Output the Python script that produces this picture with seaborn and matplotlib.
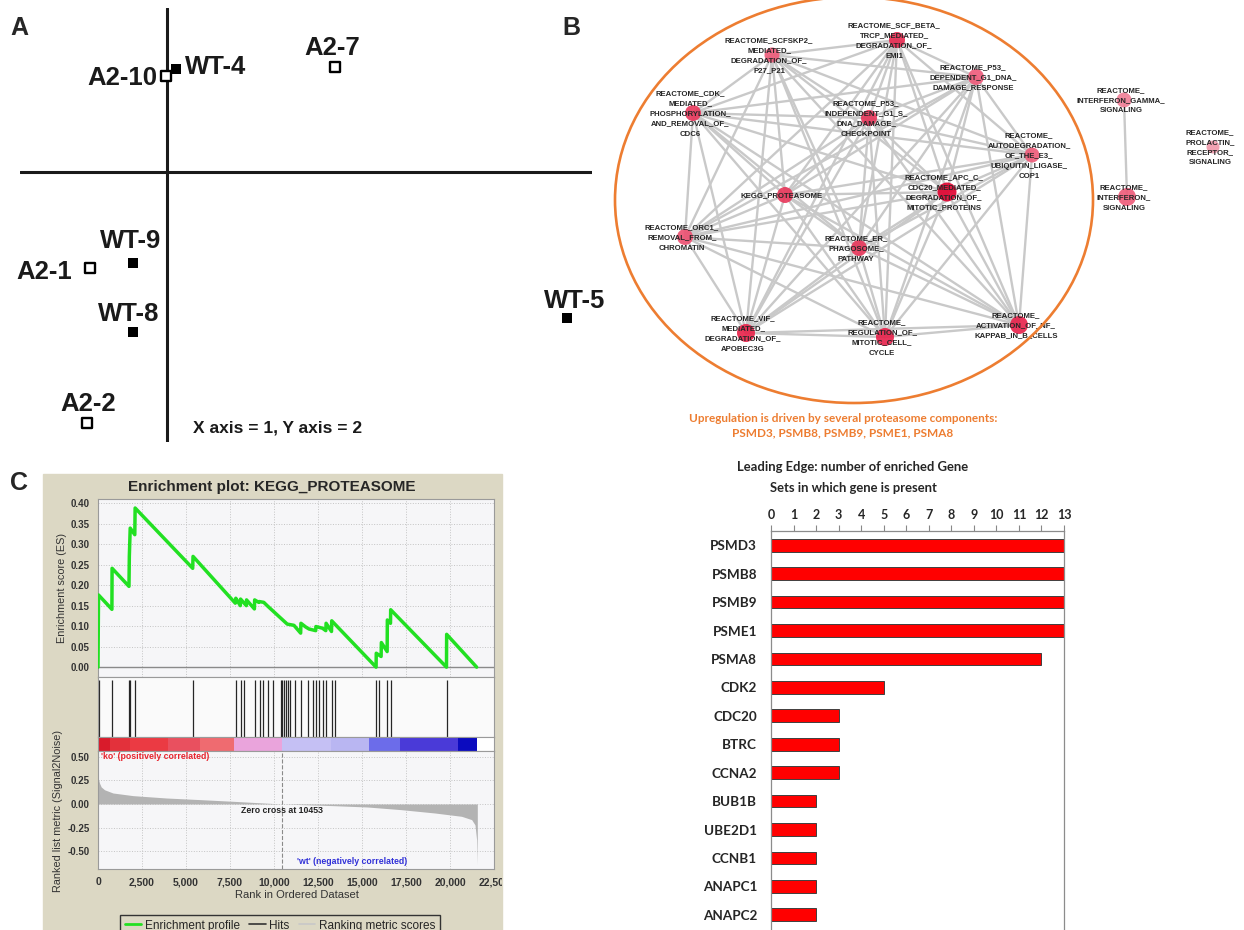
import itertools
import numpy as np
import pandas as pd
import seaborn as sns
import matplotlib.pyplot as plt
from matplotlib.patches import Ellipse, Rectangle
from matplotlib.lines import Line2D
from matplotlib.transforms import Bbox, TransformedBbox

# ---------------- data ----------------
# A: sample scores on component 1 / component 2
pca_samples = ["A2-10", "WT-4", "A2-7", "WT-9", "A2-1", "WT-8", "A2-2", "WT-5"]
pca_group = ["A2", "WT", "A2", "WT", "A2", "WT", "A2", "WT"]
pca_pc1 = [-0.03, 0.23, 4.2, -0.85, -1.93, -0.85, -2.0, 10.0]
pca_pc2 = [2.40, 2.58, 2.63, -2.28, -2.40, -4.0, -6.28, -3.65]

# B: enrichment map (node layout + style)
gs_labels = [
    "REACTOME_SCF_BETA_\nTRCP_MEDIATED_\nDEGRADATION_OF_\nEMI1",
    "REACTOME_SCFSKP2_\nMEDIATED_\nDEGRADATION_OF_\nP27_P21",
    "REACTOME_P53_\nDEPENDENT_G1_DNA_\nDAMAGE_RESPONSE",
    "REACTOME_CDK_\nMEDIATED_\nPHOSPHORYLATION_\nAND_REMOVAL_OF_\nCDC6",
    "REACTOME_P53_\nINDEPENDENT_G1_S_\nDNA_DAMAGE_\nCHECKPOINT",
    "REACTOME_\nAUTODEGRADATION_\nOF_THE_E3_\nUBIQUITIN_LIGASE_\nCOP1",
    "KEGG_PROTEASOME",
    "REACTOME_APC_C_\nCDC20_MEDIATED_\nDEGRADATION_OF_\nMITOTIC_PROTEINS",
    "REACTOME_ORC1_\nREMOVAL_FROM_\nCHROMATIN",
    "REACTOME_ER_\nPHAGOSOME_\nPATHWAY",
    "REACTOME_VIF_\nMEDIATED_\nDEGRADATION_OF_\nAPOBEC3G",
    "REACTOME_\nREGULATION_OF_\nMITOTIC_CELL_\nCYCLE",
    "REACTOME_\nACTIVATION_OF_NF_\nKAPPAB_IN_B_CELLS",
    "REACTOME_\nINTERFERON_GAMMA_\nSIGNALING",
    "REACTOME_\nINTERFERON_\nSIGNALING",
    "REACTOME_\nPROLACTIN_\nRECEPTOR_\nSIGNALING",
]
gs_x = [897, 772, 976, 693, 869, 1032, 785, 947, 685, 859, 746, 885, 1019, 1124, 1127, 1213]
gs_y = [40, 55, 77, 113, 118, 155, 195, 192, 237, 248, 333, 337, 325, 100, 197, 147]
gs_size = [16, 15, 16, 16, 16, 15, 16, 19, 16, 16, 18, 18, 18, 15, 18, 13]
gs_color = ["#e8284f", "#ee5a78", "#ee5a7a", "#e8365a", "#e8365a", "#ee5a78",
            "#e8365a", "#e0002e", "#ec4f70", "#e8365a", "#e82048", "#e8204a",
            "#e8204a", "#ef7d95", "#ee5a78", "#f098aa"]
n_core = 13
extra_edges = [(13, 14)]

# C: GSEA running enrichment score
es_rank = [0, 30, 790, 800, 1760, 1780, 1830, 2090, 2110, 5380, 5400, 7800, 7830,
           8086, 8100, 8429, 8440, 8886, 8900, 9133, 9150, 9419, 9610, 10752,
           11133, 11514, 11530, 11800, 11990, 12371, 12380, 12752, 12943, 12960,
           13267, 13280, 15800, 15810, 16086, 16100, 16429, 16440, 16619, 16630,
           19800, 19810, 21514]
es_value = [0.0, 0.176, 0.141, 0.241, 0.197, 0.270, 0.339, 0.323, 0.388, 0.241,
            0.270, 0.156, 0.168, 0.150, 0.166, 0.150, 0.164, 0.142, 0.164, 0.158,
            0.160, 0.158, 0.150, 0.105, 0.102, 0.083, 0.107, 0.098, 0.093, 0.089,
            0.099, 0.095, 0.089, 0.107, 0.087, 0.113, 0.0, 0.034, 0.026, 0.060,
            0.038, 0.115, 0.107, 0.140, 0.0, 0.080, 0.0]
hit_ranks = [75, 800, 1780, 1830, 2110, 5400, 7830, 8100, 8300, 8900, 9181, 9400,
             9650, 9940, 10380, 10480, 10580, 10700, 10800, 10900, 11170, 11530,
             11960, 12200, 12380, 12580, 12780, 12960, 13280, 13450, 15810, 15980,
             16440, 16630, 19810]
heat_edges = [0, 657, 1800, 3990, 5800, 7743, 10467, 13229, 15419, 17133, 20467, 21514]
heat_colors = ["#d91b2b", "#e3313b", "#eb3a43", "#e9505f", "#ef6b70", "#eaa4dc",
               "#c5c0f4", "#b9b6f2", "#6c6cea", "#4a3ad8", "#0b0bbf"]
metric_rank = [0, 10, 86, 181, 371, 848, 1990, 3895, 5800, 7705, 10453, 13419,
               15324, 17229, 19133, 20657, 21229, 21419, 21514, 21552]
metric_value = [0.30, 0.275, 0.22, 0.18, 0.15, 0.116, 0.088, 0.063, 0.046, 0.028,
                0.0, -0.018, -0.032, -0.06, -0.095, -0.13, -0.165, -0.22, -0.38, -0.64]
zero_cross = 10453
rank_ticks = [0, 2500, 5000, 7500, 10000, 12500, 15000, 17500, 20000, 22500]
es_ticks = [0.0, 0.05, 0.10, 0.15, 0.20, 0.25, 0.30, 0.35, 0.40]
metric_ticks = [0.50, 0.25, 0.0, -0.25, -0.50]

# leading edge counts
le_genes = ["PSMD3", "PSMB8", "PSMB9", "PSME1", "PSMA8", "CDK2", "CDC20", "BTRC",
            "CCNA2", "BUB1B", "UBE2D1", "CCNB1", "ANAPC1", "ANAPC2"]
le_counts = [13, 13, 13, 13, 12, 5, 3, 3, 3, 2, 2, 2, 2, 2]

# ---------------- figure ----------------
sns.set_style("white")
plt.rcParams["font.family"] = ["Liberation Sans", "DejaVu Sans"]

W, H = 1244, 930
fig = plt.figure(figsize=(W / 100, H / 100), dpi=100)


def box(l, t, r, b):
    return [l / W, 1 - b / H, (r - l) / W, (b - t) / H]


# panel letters
for letter, x, y in [("A", 10, 35), ("B", 562, 35), ("C", 10, 490)]:
    fig.text(x / W, 1 - y / H, letter, fontsize=18, fontweight="bold", va="baseline")

# ---- A ----
axA = fig.add_axes(box(20, 8, 592, 442))
axA.set_xlim(-3.675, 10.625)
axA.set_ylim(-6.75, 4.1)
axA.axis("off")
axA.axhline(0, color="#1a1a1a", lw=2.2, zorder=1)
axA.axvline(0, color="#1a1a1a", lw=2.2, zorder=1)
dfA = pd.DataFrame({"pc1": pca_pc1, "pc2": pca_pc2, "group": pca_group, "name": pca_samples})
sns.scatterplot(data=dfA[dfA.group == "WT"], x="pc1", y="pc2", marker="s", s=62,
                color="black", edgecolor="black", linewidth=0, ax=axA, zorder=3)
sns.scatterplot(data=dfA[dfA.group == "A2"], x="pc1", y="pc2", marker="s", s=48,
                facecolor="white", edgecolor="black", linewidth=1.7, ax=axA, zorder=3)
label_offset = {"A2-10": (-8, -2, "right"), "WT-4": (9, 2, "left"), "A2-7": (-3, 19, "center"),
                "WT-9": (-2, 22, "center"), "A2-1": (-18, -4, "right"), "WT-8": (-4, 18, "center"),
                "A2-2": (1, 19, "center"), "WT-5": (8, 17, "center")}
for name, x, y in zip(pca_samples, pca_pc1, pca_pc2):
    dx, dy, ha = label_offset[name]
    axA.annotate(name, (x, y), xytext=(dx, dy), textcoords="offset pixels",
                 ha=ha, va="center", fontsize=18.5, fontweight="bold", color="#1a1a1a")
fig.text(193 / W, 1 - 428 / H, "X axis = 1, Y axis = 2", fontsize=12.5, fontweight="bold",
         va="center", color="#1a1a1a")

# ---- B ----
axB = fig.add_axes(box(600, 0, 1244, 410))
axB.set_xlim(600, 1244)
axB.set_ylim(410, 0)
axB.axis("off")
edges = list(itertools.combinations(range(n_core), 2)) + extra_edges
for i, j in edges:
    axB.plot([gs_x[i], gs_x[j]], [gs_y[i], gs_y[j]], color="#c9c9c9", lw=1.7,
             solid_capstyle="round", zorder=1)
sns.scatterplot(x=gs_x, y=gs_y, hue=gs_labels, palette=dict(zip(gs_labels, gs_color)),
                size=gs_labels, sizes=dict(zip(gs_labels, [(d * 0.72) ** 2 for d in gs_size])),
                linewidth=0, alpha=0.9, legend=False, ax=axB, zorder=2)
axB.set_xlim(600, 1244)
axB.set_ylim(410, 0)
for lab, x, y in zip(gs_labels, gs_x, gs_y):
    axB.text(x - 3, y + 1, lab, ha="center", va="center", fontsize=5.6, fontweight="bold",
             color="#262626", linespacing=1.6, zorder=3)
axB.add_patch(Ellipse((854, 200), 478, 406, fill=False, ec="#ed7d31", lw=1.9,
                      zorder=4, clip_on=False))

fig.text(843 / W, 1 - 418 / H, "Upregulation is driven by several proteasome components:",
         ha="center", va="center", fontsize=8.5, fontweight="bold", color="#ed7d31", family="Lato")
fig.text(843 / W, 1 - 433 / H, "PSMD3, PSMB8, PSMB9, PSME1, PSMA8",
         ha="center", va="center", fontsize=8.5, fontweight="bold", color="#ed7d31", family="Lato")
fig.text(853 / W, 1 - 467 / H, "Leading Edge: number of enriched Gene",
         ha="center", va="center", fontsize=9.4, fontweight="bold", family="Lato")
fig.text(853 / W, 1 - 488 / H, "Sets in which gene is present",
         ha="center", va="center", fontsize=9.4, fontweight="bold", family="Lato")

# ---- leading edge bars ----
axL = fig.add_axes(box(771, 531, 1064, 929))
dfL = pd.DataFrame({"gene": le_genes, "count": le_counts})
sns.barplot(data=dfL, x="count", y="gene", orient="h", color="#ff0000", saturation=1,
            edgecolor="#404040", linewidth=0.7, width=0.45, ax=axL)
axL.set_xlim(0, 13)
axL.set_xticks(range(14))
axL.xaxis.tick_top()
axL.set_xlabel("")
axL.set_ylabel("")
axL.tick_params(axis="x", top=True, bottom=False, length=4, color="#888888", width=0.8,
                labelsize=9, pad=3)
axL.tick_params(axis="y", length=0, pad=10, labelsize=9.7)
for t in axL.get_xticklabels() + axL.get_yticklabels():
    t.set_fontfamily("Lato")
    t.set_fontweight("bold")
for side in ["top", "left", "right"]:
    axL.spines[side].set_color("#8c8c8c")
    axL.spines[side].set_linewidth(0.9)
axL.spines["bottom"].set_visible(False)

# ---- C: GSEA ----
fig.patches.append(Rectangle((43 / W, 0), (502 - 43) / W, 1 - 474 / H,
                             transform=fig.transFigure, color="#dcd8c4", zorder=-1))
clip_c = TransformedBbox(Bbox([[43 / W, 0], [502 / W, 1 - 474 / H]]), fig.transFigure)
fig.text(272 / W, 1 - 487 / H, "Enrichment plot: KEGG_PROTEASOME", ha="center",
         va="center", fontsize=11, fontweight="bold")

ax_es = fig.add_axes(box(98, 499, 494, 677))
ax_hit = fig.add_axes(box(98, 677, 494, 737))
ax_heat = fig.add_axes(box(98, 737, 494, 751))
ax_rank = fig.add_axes(box(98, 751, 494, 869))

for ax in [ax_es, ax_hit, ax_heat, ax_rank]:
    ax.set_facecolor("#f6f6f8")
    for s in ax.spines.values():
        s.set_color("#9a9a9a")
        s.set_linewidth(0.8)
    ax.set_xlim(0, 22500)
    ax.set_xticks(rank_ticks)
    ax.tick_params(colors="#333333", labelsize=7, length=2.5, width=0.6)
    ax.set_axisbelow(True)

ax_es.set_ylim(-0.024, 0.41)
ax_es.set_yticks(es_ticks)
ax_es.set_yticklabels([f"{v:.2f}" for v in es_ticks])
ax_es.grid(True, ls=":", color="#c4c4c4", lw=0.7)
ax_es.tick_params(axis="x", length=0, labelbottom=False)
ax_es.axhline(0, color="#8a8a8a", lw=1.0, zorder=1)
sns.lineplot(x=es_rank, y=es_value, sort=False, estimator=None, color="#22e022",
             lw=2.5, ax=ax_es, zorder=3)

ax_hit.set_facecolor("#fafafa")
ax_hit.set_ylim(0, 1)
ax_hit.vlines(hit_ranks, 0, 0.95, color="#262626", lw=0.9)
ax_hit.set_xticks([])
ax_hit.set_yticks([])

ax_heat.set_facecolor("white")
for k, c in enumerate(heat_colors):
    ax_heat.axvspan(heat_edges[k], heat_edges[k + 1], color=c, lw=0)
ax_heat.set_xticks([])
ax_heat.set_yticks([])

ax_rank.set_ylim(-0.686, 0.559)
ax_rank.set_yticks(metric_ticks)
ax_rank.set_yticklabels([f"{v:.2f}" for v in metric_ticks])
ax_rank.set_xticklabels([f"{v:,}" for v in rank_ticks])
ax_rank.tick_params(axis="x", labelsize=7.5)
ax_rank.grid(True, ls=":", color="#c4c4c4", lw=0.7)
ax_rank.fill_between(metric_rank, metric_value, 0, color="#b3b3b3", lw=0, zorder=2)
ax_rank.axvline(zero_cross, color="#8a8a8a", ls="--", lw=0.8, zorder=3)
ax_rank.text(150, 0.50, "'ko' (positively correlated)", color="#e8232d", fontsize=6.3,
             fontweight="bold", va="center")
ax_rank.text(zero_cross, -0.074, f"Zero cross at {zero_cross}", color="#222222",
             fontsize=6.3, fontweight="bold", ha="center", va="center")
ax_rank.text(11300, -0.61, "'wt' (negatively correlated)", color="#3030d8", fontsize=6.3,
             fontweight="bold", va="center")
for t in ax_es.get_yticklabels() + ax_rank.get_yticklabels() + ax_rank.get_xticklabels():
    t.set_fontweight("bold")
last = ax_rank.get_xticklabels()[-1]
last.set_clip_box(clip_c)
last.set_clip_on(True)

fig.text(62 / W, 1 - 588 / H, "Enrichment score (ES)", rotation=90, ha="center",
         va="center", fontsize=7.8, color="#333333")
fig.text(58 / W, 1 - 811 / H, "Ranked list metric (Signal2Noise)", rotation=90,
         ha="center", va="center", fontsize=7.8, color="#333333")
fig.text(297 / W, 1 - 895 / H, "Rank in Ordered Dataset", ha="center", va="center",
         fontsize=8, color="#333333")

handles = [Line2D([], [], color="#22e022", lw=2),
           Line2D([], [], color="#333333", lw=1.2),
           Line2D([], [], color="#c8c8c8", lw=1.2)]
fig.legend(handles, ["Enrichment profile", "Hits", "Ranking metric scores"], ncol=3,
           loc="upper left", bbox_to_anchor=(114 / W, 1 - 909 / H), fontsize=8.5,
           handlelength=1.4, handletextpad=0.3, columnspacing=0.8, borderpad=0.4,
           fancybox=False, edgecolor="#333333", facecolor="#dcd8c4", framealpha=1)

fig.savefig("out.png", dpi=100)
